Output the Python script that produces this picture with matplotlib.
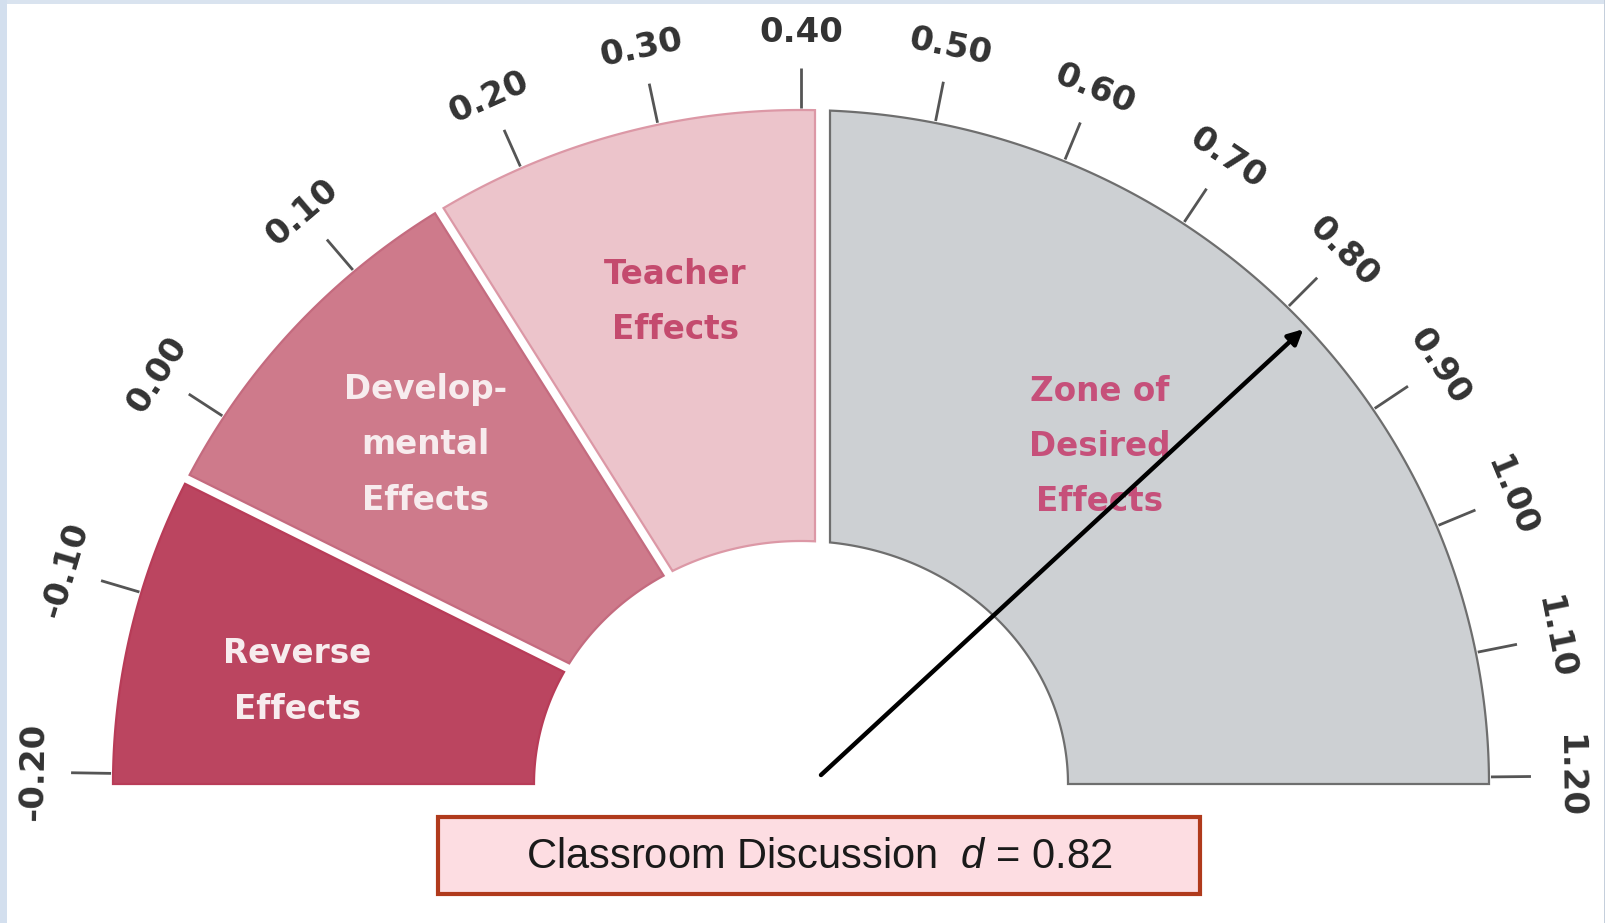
import numpy as np
import matplotlib.pyplot as plt
from matplotlib.patches import Polygon, Rectangle

plt.rcParams['mathtext.fontset'] = 'custom'
plt.rcParams['mathtext.it'] = 'Liberation Sans:italic'
plt.rcParams['mathtext.rm'] = 'Liberation Sans'

# data
tick_values = [-0.20, -0.10, 0.00, 0.10, 0.20, 0.30, 0.40, 0.50,
               0.60, 0.70, 0.80, 0.90, 1.00, 1.10, 1.20]
zone_bounds = [-0.20, -0.04, 0.15, 0.40, 1.20]
zone_names = ['Reverse\nEffects', 'Develop-\nmental\nEffects',
              'Teacher\nEffects', 'Zone of\nDesired\nEffects']
zone_colors = ['#bb4560', '#ce7a8b', '#ecc4cb', '#cdd0d3']
zone_edges = ['#b83c58', '#c46b7f', '#dc98a6', '#6e6e6e']
zone_text_colors = ['#f7ecee', '#f7ecee', '#c44b6e', '#c6507a']
influence = 'Classroom Discussion'
effect_size = 0.82

# layout (pixel space)
W, H = 1606, 923
cx, cy = 801, 784
rxo, ryo = 688, 674
rxi, ryi = 267, 243
scale_vals = [-0.2, 0.2, 0.4, 1.2]
scale_angles = [180, 114, 90, 0]
gap_offsets = [(-5, 5), (-5, 5), (14, 29)]
label_nudge = [(1.7, 514), (0.0, 506), (-1.5, 498), (3.5, 451)]


def angle_of(v):
    return np.interp(v, scale_vals, scale_angles)


def edge_phi(theta, s, rx, ry):
    th = np.radians(theta)
    A = rx * np.sin(th)
    B = ry * np.cos(th)
    R = np.hypot(A, B)
    d = np.arctan2(B, A)
    c = np.arccos(np.clip(s / R, -1, 1))
    best = None
    for p in (c - d, -c - d):
        p = (p - th + np.pi) % (2 * np.pi) - np.pi + th
        if best is None or abs(p - th) < abs(best - th):
            best = p
    return best


def to_screen(phi, rx, ry):
    return cx + rx * np.cos(phi), cy - ry * np.sin(phi)


fig = plt.figure(figsize=(W / 100, H / 100), dpi=100)
ax = fig.add_axes([0, 0, 1, 1])
ax.set_xlim(0, W)
ax.set_ylim(H, 0)
ax.axis('off')

# light blue frame
ax.add_patch(Rectangle((0, 0), W, 4, color='#d9e3ef', lw=0))
ax.add_patch(Rectangle((0, 0), 7, H, color='#d3dfee', lw=0))
ax.add_patch(Rectangle((W - 2, 0), 2, H, color='#c5cfdc', lw=0))

# wedges
for i in range(len(zone_names)):
    ta = angle_of(zone_bounds[i])
    tb = angle_of(zone_bounds[i + 1])
    sa = 0 if i == 0 else gap_offsets[i - 1][1]
    sb = 0 if i == len(zone_names) - 1 else gap_offsets[i][0]
    po = np.linspace(edge_phi(ta, sa, rxo, ryo), edge_phi(tb, sb, rxo, ryo), 200)
    pi_ = np.linspace(edge_phi(tb, sb, rxi, ryi), edge_phi(ta, sa, rxi, ryi), 200)
    xo, yo = to_screen(po, rxo, ryo)
    xi, yi = to_screen(pi_, rxi, ryi)
    pts = np.column_stack([np.r_[xo, xi], np.r_[yo, yi]])
    ax.add_patch(Polygon(pts, closed=True, facecolor=zone_colors[i],
                         edgecolor=zone_edges[i], lw=1.6, zorder=2))

    # label
    mid = (ta + tb) / 2 + label_nudge[i][0]
    r = label_nudge[i][1]
    lx = cx + r * np.cos(np.radians(mid))
    ly = cy - r * np.sin(np.radians(mid))
    ax.text(lx, ly, zone_names[i], ha='center', va='center',
            fontsize=23.5, fontweight='bold', color=zone_text_colors[i],
            linespacing=1.85, zorder=3)

# ticks and tick labels
for v in tick_values:
    t = np.clip(angle_of(v), 0.6, 179.1)
    c, s = np.cos(np.radians(t)), np.sin(np.radians(t))
    ax.plot([cx + (rxo + 2) * c, cx + (rxo + 42) * c],
            [cy - (ryo + 2) * s, cy - (ryo + 42) * s],
            color='#555555', lw=2, solid_capstyle='butt', zorder=2)
    ax.text(cx + (rxo + 80) * c, cy - (ryo + 78) * s, '%.2f' % v,
            rotation=t - 90, rotation_mode='anchor', ha='center', va='center',
            fontsize=24.5, fontweight='bold', color='#333333', zorder=3)

# arrow pointer
ta = np.radians(angle_of(effect_size))
tip = (cx + (rxo - 4) * np.cos(ta), cy - (ryo - 4) * np.sin(ta))
base = (cx + 20, cy - 9)
ax.annotate('', xy=tip, xytext=base, zorder=5,
            arrowprops=dict(arrowstyle='-|>', color='black', lw=3.2,
                            mutation_scale=22, shrinkA=0, shrinkB=0))

# caption box
ax.add_patch(Rectangle((438, 817), 762, 77, facecolor='#fddde2',
                       edgecolor='#b03a1c', lw=3, zorder=2))
ax.text(819, 857, influence + '  $\\mathit{d}$ = %.2f' % effect_size,
        ha='center', va='center', fontsize=30, family='Liberation Sans',
        color='#1a1a1a', zorder=3)

fig.savefig('out.png', dpi=100)
